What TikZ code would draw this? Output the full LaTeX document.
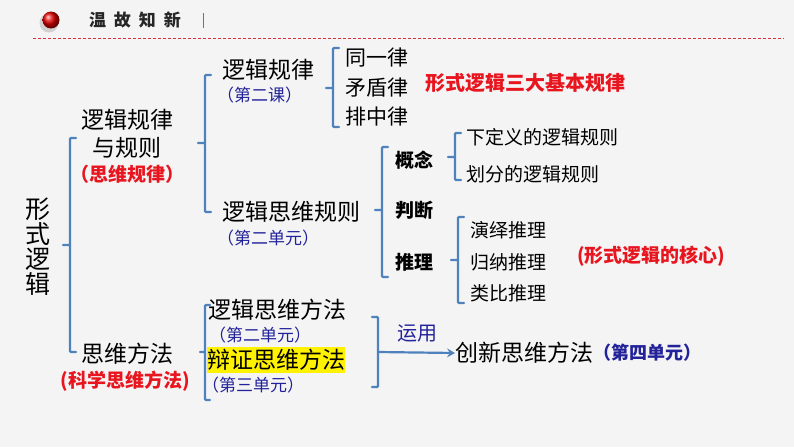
\documentclass[tikz,border=0pt]{standalone}
\usepackage{fontspec}
\newfontfamily\cjk{Noto Sans CJK SC}
\usetikzlibrary{arrows.meta}
\definecolor{brk}{HTML}{4F81BD}
\definecolor{hd}{HTML}{D9303C}
\definecolor{kred}{HTML}{E8141E}
\definecolor{kblue}{HTML}{22229A}
\definecolor{bg}{HTML}{F4F4F4}
\newcommand\fs[2][]{\fontsize{#2}{28}\selectfont}

\begin{document}
\begin{tikzpicture}[x=1pt,y=-1pt,every node/.style={inner sep=0pt,font=\cjk},
  brak/.style={draw=brk,line width=2.2pt,line cap=round,rounded corners=1pt},
  big/.style={font=\cjk\fs{23},anchor=west},
  mid/.style={font=\cjk\fs{19},anchor=west},
  key/.style={font=\cjk\bfseries\fs{19},anchor=west},
  note/.style={font=\cjk\bfseries\fs{19},text=kred},
  unit/.style={font=\cjk\fs{17},text=kblue,anchor=west}]
\fill[bg] (0,0) rectangle (794,447);\useasboundingbox (0,0) rectangle (794,447);
% header
\fill[black!18] (49,23) circle (9.5);\shade[ball color=red!90!black] (51,20) circle (8.5);
\node[font=\cjk\bfseries\fs{17},text=black!85] (title) at (135,20) {温\hspace{8pt}故\hspace{8pt}知\hspace{8pt}新};
\draw[black!55,line width=1pt] (203,13)--(203,28);
\draw[hd,dash pattern=on 3pt off 2pt,line width=0.9pt] (33,38)--(784,38);
% root and first level
\node[font=\cjk\fontsize{25}{25}\selectfont,align=center] (root) at (38,247) {形\\式\\逻\\辑};
\node[big,anchor=center,align=center] (lawrule) at (127,134) {逻辑规律\\与规则};
\node[note] (lawrulen) at (127,174) {（思维规律）};
\node[big,anchor=center] (method) at (127,354) {思维方法};
\node[note] (methodn) at (125,381) {(科学思维方法)};
\draw[brak] (76,138)--(70,138)--(70,352)--(76,352) (70,245)--(63,245);
% logic laws and rules
\node[big] (law) at (222,70) {逻辑规律};\node[unit] (lawu) at (217,95) {（第二课）};
\node[big] (rule) at (222,212) {逻辑思维规则};\node[unit] (ruleu) at (217,238) {（第二单元）};
\draw[brak] (211,75)--(205,75)--(205,212)--(211,212) (205,143)--(198,143);
\node[big,font=\cjk\fs{21}] (same) at (345,58) {同一律};
\node[big,font=\cjk\fs{21}] (contra) at (345,88) {矛盾律};
\node[big,font=\cjk\fs{21}] (middle) at (345,117) {排中律};
\draw[brak] (339,48)--(333,48)--(333,127)--(339,127) (333,88)--(326,88);
\node[note,anchor=west,font=\cjk\bfseries\fs{20}] (three) at (425,83) {形式逻辑三大基本规律};
\node[key] (concept) at (395,160) {概念};\node[key] (judge) at (395,210) {判断};\node[key] (infer) at (395,262) {推理};
\draw[brak] (388,147)--(382,147)--(382,277)--(388,277) (382,210)--(375,210);
\node[mid] (define) at (466,137) {下定义的逻辑规则};\node[mid] (divide) at (466,174) {划分的逻辑规则};
\draw[brak] (461,133)--(455,133)--(455,180)--(461,180) (455,157)--(448,157);
\node[mid] (deduct) at (470,230) {演绎推理};\node[mid] (induct) at (470,262) {归纳推理};\node[mid] (analog) at (470,293) {类比推理};
\draw[brak] (464,217)--(458,217)--(458,303)--(464,303) (458,260)--(451,260);
\node[note,anchor=west] (core) at (577,256) {(形式逻辑的核心)};
% thinking methods
\node[big] (logicm) at (208,310) {逻辑思维方法};\node[unit] (logicmu) at (209,335) {（第二单元）};
\node[big,fill=yellow,inner ysep=2pt] (dialm) at (207,360) {辩证思维方法};\node[unit] (dialmu) at (202,385) {（第三单元）};
\draw[brak] (210,305)--(205,305)--(205,400)--(210,400) (205,352)--(200,352);
\draw[brak] (372,317)--(378,317)--(378,387)--(372,387);
\coordinate (fork) at (378,352);
\node[font=\cjk\fs{20},text=kblue] (apply) at (417,333) {运用};
\node[big] (innov) at (455,353) {创新思维方法};
\node[unit,font=\cjk\bfseries\fs{18}] (innovu) at (innov.east) {（第四单元）};
\draw[brak,-{Stealth[length=8pt,width=9pt,inset=3pt]}] (fork)--(innov.west);
\end{tikzpicture}
\end{document}
